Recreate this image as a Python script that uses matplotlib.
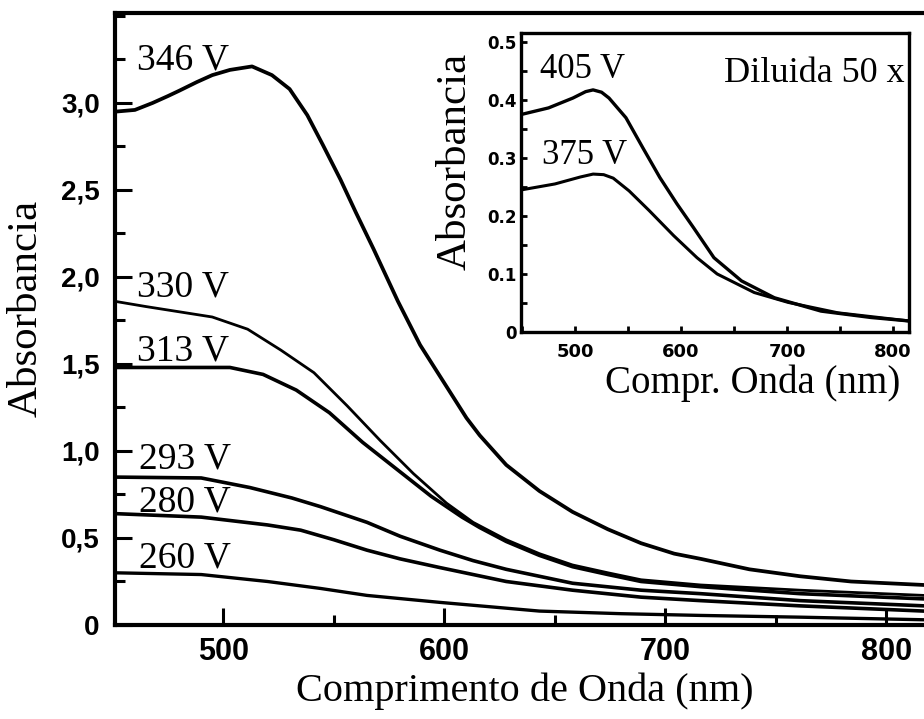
import numpy as np
import matplotlib
matplotlib.use('Agg')
from matplotlib import pyplot as plt
from matplotlib.ticker import MultipleLocator

# espectros de absorbancia (comprimento de onda em nm)
wl_346 = [451, 460, 468, 475, 480, 488, 495, 503, 513, 522, 530, 538, 545, 553, 560, 568, 579, 589, 601, 610, 616, 628, 643, 658, 674, 689, 704, 716, 738, 761, 784, 817]
ab_346 = [2.95, 2.96, 3.00, 3.04, 3.07, 3.12, 3.16, 3.19, 3.21, 3.16, 3.08, 2.93, 2.76, 2.56, 2.37, 2.16, 1.86, 1.61, 1.37, 1.19, 1.09, 0.92, 0.77, 0.65, 0.55, 0.47, 0.41, 0.38, 0.32, 0.28, 0.25, 0.23]

wl_330 = [451, 465, 480, 495, 511, 526, 541, 556, 571, 586, 601, 613, 628, 643, 658, 674, 689, 716, 761, 817]
ab_330 = [1.86, 1.83, 1.80, 1.77, 1.70, 1.58, 1.45, 1.26, 1.06, 0.87, 0.70, 0.59, 0.49, 0.41, 0.345, 0.30, 0.26, 0.23, 0.20, 0.17]

wl_313 = [451, 480, 503, 518, 533, 548, 563, 579, 594, 608, 616, 628, 643, 658, 674, 689, 716, 761, 817]
ab_313 = [1.48, 1.48, 1.48, 1.44, 1.35, 1.22, 1.05, 0.89, 0.74, 0.62, 0.56, 0.48, 0.40, 0.335, 0.29, 0.25, 0.22, 0.18, 0.15]

wl_293 = [451, 490, 512, 531, 544, 565, 580, 598, 613, 628, 643, 658, 689, 716, 761, 817]
ab_293 = [0.85, 0.845, 0.79, 0.73, 0.68, 0.59, 0.51, 0.43, 0.37, 0.32, 0.28, 0.24, 0.20, 0.18, 0.14, 0.11]

wl_280 = [451, 490, 520, 535, 550, 565, 580, 598, 613, 628, 658, 689, 716, 761, 817]
ab_280 = [0.64, 0.62, 0.575, 0.545, 0.49, 0.43, 0.38, 0.33, 0.29, 0.25, 0.20, 0.16, 0.14, 0.11, 0.08]

wl_260 = [451, 490, 520, 544, 565, 598, 625, 643, 680, 716, 761, 817]
ab_260 = [0.30, 0.29, 0.25, 0.21, 0.17, 0.13, 0.10, 0.08, 0.065, 0.055, 0.045, 0.03]

# amostras diluidas 50 x
wl_405 = [450, 475, 498, 510, 517, 525, 532, 548, 564, 580, 596, 612, 631, 657, 688, 732, 779, 815]
ab_405 = [0.375, 0.386, 0.403, 0.414, 0.417, 0.413, 0.403, 0.369, 0.317, 0.266, 0.221, 0.179, 0.128, 0.088, 0.059, 0.036, 0.025, 0.019]

wl_375 = [450, 481, 505, 517, 527, 536, 551, 570, 593, 615, 634, 669, 701, 748, 815]
ab_375 = [0.245, 0.255, 0.267, 0.272, 0.271, 0.265, 0.243, 0.209, 0.166, 0.128, 0.100, 0.068, 0.051, 0.033, 0.019]

yticks_main = [0, 0.5, 1.0, 1.5, 2.0, 2.5, 3.0]
ylabels_main = ['0', '0,5', '1,0', '1,5', '2,0', '2,5', '3,0']
xticks_main = [500, 600, 700, 800]
yticks_ins = [0, 0.1, 0.2, 0.3, 0.4, 0.5]
ylabels_ins = ['0', '0.1', '0.2', '0.3', '0.4', '0.5']

serif = 'Liberation Serif'
tickfont = {'family': 'Liberation Sans', 'weight': 'bold'}

fig = plt.figure(figsize=(9.24, 7.19), dpi=100)
ax = fig.add_axes([115/924, 94/719, 809/924, 612/719])

curvas = [(wl_346, ab_346, 2.7), (wl_330, ab_330, 2.0), (wl_313, ab_313, 2.6),
          (wl_293, ab_293, 2.6), (wl_280, ab_280, 2.6), (wl_260, ab_260, 2.4)]
for wl, ab, lw in curvas:
    ax.plot(wl, ab, '-', color='k', lw=lw, solid_joinstyle='round')

ax.set_xlim(451, 817)
ax.set_ylim(0, 3.517)
ax.spines['right'].set_visible(False)
for s in ['left', 'bottom', 'top']:
    ax.spines[s].set_linewidth(3)
ax.set_yticks(yticks_main)
ax.set_yticklabels(ylabels_main, fontdict=tickfont, fontsize=20)
ax.set_xticks(xticks_main)
ax.set_xticklabels([str(t) for t in xticks_main], fontdict=tickfont, fontsize=22)
ax.yaxis.set_minor_locator(MultipleLocator(0.25))
ax.xaxis.set_minor_locator(MultipleLocator(50))
ax.tick_params(which='major', direction='in', length=12, width=2.2, top=False, right=False)
ax.tick_params(which='minor', direction='in', length=7, width=2.2, top=False, right=False)
ax.tick_params(axis='y', which='major', pad=11)
ax.tick_params(axis='x', which='major', pad=9)

ax.set_xlabel('Comprimento de Onda (nm)', family=serif, fontsize=29)
ax.xaxis.set_label_coords(0.506, -0.078)
ax.set_ylabel('Absorbancia', family=serif, fontsize=31, va='center')
ax.yaxis.set_label_coords(-0.11, 0.518)

rotulos = [('346 V', 461, 3.19), ('330 V', 461, 1.885), ('313 V', 461, 1.52),
           ('293 V', 462, 0.90), ('280 V', 462, 0.65), ('260 V', 462, 0.333)]
for txt, x, y in rotulos:
    ax.text(x, y, txt, family=serif, fontsize=27, ha='left', va='baseline')

# grafico interno
ins = fig.add_axes([521/924, 387/719, 388/924, 299/719])
ins.plot(wl_405, ab_405, '-', color='k', lw=2.4, solid_joinstyle='round')
ins.plot(wl_375, ab_375, '-', color='k', lw=2.2, solid_joinstyle='round')
ins.set_xlim(449, 815)
ins.set_ylim(0, 0.515)
for s in ins.spines.values():
    s.set_linewidth(2.4)
ins.set_yticks(yticks_ins)
ins.set_yticklabels(ylabels_ins, family='DejaVu Sans', weight='bold', fontsize=12)
ins.set_xticks(xticks_main)
ins.set_xticklabels([str(t) for t in xticks_main], family='DejaVu Sans', weight='bold', fontsize=13)
ins.yaxis.set_minor_locator(MultipleLocator(0.05))
ins.xaxis.set_minor_locator(MultipleLocator(50))
ins.tick_params(which='both', direction='in', length=4, width=2, top=False, right=False)
ins.tick_params(axis='y', which='major', pad=3)
ins.tick_params(axis='x', which='major', pad=8)
ins.set_xlabel('Compr. Onda (nm)', family=serif, fontsize=28)
ins.xaxis.set_label_coords(0.598, -0.11)
ins.set_ylabel('Absorbancia', family=serif, fontsize=31, va='center')
ins.yaxis.set_label_coords(-0.17, 0.572)
ins.text(467, 0.438, '405 V', family=serif, fontsize=25, ha='left', va='baseline')
ins.text(469, 0.29, '375 V', family=serif, fontsize=25, ha='left', va='baseline')
ins.text(0.99, 0.836, 'Diluida 50 x', family=serif, fontsize=26, ha='right', va='baseline',
         transform=ins.transAxes)

fig.savefig('out.png', dpi=100)
